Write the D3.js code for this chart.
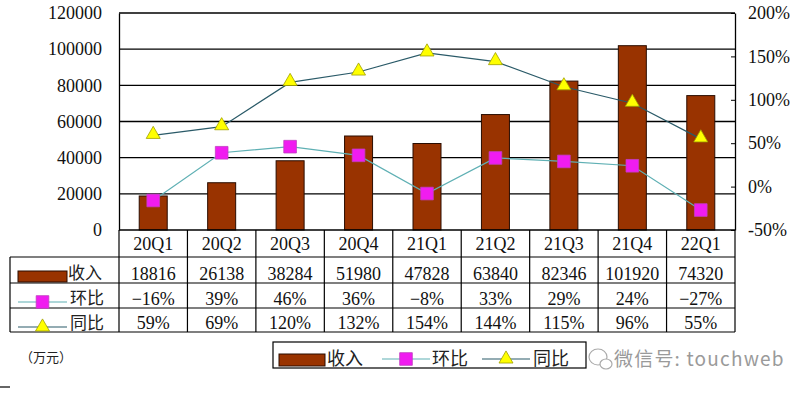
<!DOCTYPE html>
<html>
<head>
<meta charset="utf-8">
<script src="https://cdn.jsdelivr.net/npm/d3@7"></script>
<style>
  body { margin: 0; background: #fff; }
  svg { display: block; }
  text { font-family: "Liberation Serif", "Noto Sans CJK SC", serif; }
  text.cjk { font-family: "Noto Sans CJK SC", sans-serif; }
  text.wm { font-family: "Noto Sans CJK SC", "DejaVu Sans", sans-serif; }
</style>
</head>
<body>
<svg id="chart" width="803" height="395"></svg>
<script>
// data
var quarters = ["20Q1", "20Q2", "20Q3", "20Q4", "21Q1", "21Q2", "21Q3", "21Q4", "22Q1"];
var revenue = [18816, 26138, 38284, 51980, 47828, 63840, 82346, 101920, 74320];
var qoq = [-16, 39, 46, 36, -8, 33, 29, 24, -27];     // 环比 %
var yoy = [59, 69, 120, 132, 154, 144, 115, 96, 55];  // 同比 %
var leftTicks = [0, 20000, 40000, 60000, 80000, 100000, 120000];
var rightTicks = [-50, 0, 50, 100, 150, 200];

var BAR = "#993300", QOQ_LINE = "#5fb0b4", YOY_LINE = "#2a5a68";
var MAGENTA = "#f01cf0", YELLOW = "#ffff00";

var svg = d3.select("#chart");
var L = 119, R = 735, T = 13, B = 230;
var rows = [230, 257, 283, 308, 332]; // table row lines

var x = d3.scaleBand().domain(quarters).range([L, R]);
var yL = d3.scaleLinear().domain([0, 120000]).range([B, T]);
var yR = d3.scaleLinear().domain([-50, 200]).range([B, T]);

// gridlines
svg.append("g").selectAll("line").data(leftTicks.slice(1)).join("line")
  .attr("x1", L).attr("x2", R)
  .attr("y1", d => yL(d)).attr("y2", d => yL(d))
  .attr("stroke", "#000").attr("stroke-width", 1.3);

// bars
var bw = 28;
svg.append("g").selectAll("rect").data(revenue).join("rect")
  .attr("x", (d, i) => x(quarters[i]) + x.bandwidth() / 2 - bw / 2)
  .attr("y", d => yL(d))
  .attr("width", bw)
  .attr("height", d => B - yL(d))
  .attr("fill", BAR).attr("stroke", "#2a0d00").attr("stroke-width", 1);

// left axis
var axL = svg.append("g").attr("transform", "translate(" + L + ",0)")
  .call(d3.axisLeft(yL).tickValues(leftTicks).tickSize(0).tickPadding(17).tickFormat(d3.format("d")));
axL.select(".domain").attr("stroke", "#000").attr("stroke-width", 1.3);
axL.selectAll("text").attr("font-size", 18).attr("fill", "#111");

// right axis
var axR = svg.append("g").attr("transform", "translate(" + R + ",0)")
  .call(d3.axisRight(yR).tickValues(rightTicks).tickSizeInner(-4).tickSizeOuter(0).tickPadding(13).tickFormat(d => d + "%"));
axR.select(".domain").attr("stroke", "#000").attr("stroke-width", 1.3);
axR.selectAll("line").attr("stroke", "#000");
axR.selectAll("text").attr("font-size", 18).attr("fill", "#111");

// lines
var cx = d => x(d) + x.bandwidth() / 2;
var pctLine = d3.line().x((d, i) => cx(quarters[i])).y(d => yR(d));
svg.append("path").datum(qoq).attr("d", pctLine)
  .attr("fill", "none").attr("stroke", QOQ_LINE).attr("stroke-width", 1.2);
svg.append("path").datum(yoy).attr("d", pctLine)
  .attr("fill", "none").attr("stroke", YOY_LINE).attr("stroke-width", 1.2);

var sq = d3.symbol().type(d3.symbolSquare).size(160);
var tri = d3.symbol().type(d3.symbolTriangle).size(85);

svg.append("g").selectAll("path").data(qoq).join("path")
  .attr("d", sq)
  .attr("transform", (d, i) => "translate(" + cx(quarters[i]) + "," + yR(d) + ")")
  .attr("fill", MAGENTA).attr("stroke", "#c040c0").attr("stroke-width", 0.8);
svg.append("g").selectAll("path").data(yoy).join("path")
  .attr("d", tri)
  .attr("transform", (d, i) => "translate(" + cx(quarters[i]) + "," + (yR(d) - 1) + ")")
  .attr("fill", YELLOW).attr("stroke", "#a0a000").attr("stroke-width", 0.8);

// data table
var tbl = svg.append("g");
tbl.append("line").attr("x1", L).attr("x2", R).attr("y1", rows[0]).attr("y2", rows[0])
  .attr("stroke", "#000").attr("stroke-width", 1.3);
rows.slice(1).forEach(function (yy) {
  tbl.append("line").attr("x1", 10).attr("x2", R).attr("y1", yy).attr("y2", yy)
    .attr("stroke", "#000").attr("stroke-width", 1.2);
});
var bounds = quarters.map(q => x(q)).concat([R]);
tbl.selectAll("line.v").data(bounds).join("line").attr("class", "v")
  .attr("x1", d => d).attr("x2", d => d).attr("y1", rows[0]).attr("y2", rows[4])
  .attr("stroke", "#000").attr("stroke-width", 1.2);
tbl.append("line").attr("x1", 10).attr("x2", 10).attr("y1", rows[1]).attr("y2", rows[4])
  .attr("stroke", "#000").attr("stroke-width", 1.2);

// category labels
tbl.selectAll("text.cat").data(quarters).join("text").attr("class", "cat")
  .attr("x", d => cx(d)).attr("y", 250)
  .attr("text-anchor", "middle").attr("font-size", 18).attr("fill", "#111").text(d => d);

var rowText = [
  { vals: revenue.map(String), y: 280 },
  { vals: qoq.map(d => (d < 0 ? "\u2212" + (-d) : d) + "%"), y: 305 },
  { vals: yoy.map(d => d + "%"), y: 329 }
];
rowText.forEach(function (r) {
  tbl.append("g").selectAll("text").data(r.vals).join("text")
    .attr("x", (d, i) => cx(quarters[i])).attr("y", r.y)
    .attr("text-anchor", "middle").attr("font-size", 18).attr("fill", "#111").text(d => d);
});

// legend keys
function keyRect(g, x0, y0, w, h) {
  g.append("rect").attr("x", x0).attr("y", y0).attr("width", w).attr("height", h)
    .attr("fill", BAR).attr("stroke", "#2a0d00").attr("stroke-width", 1);
}
function keyLine(g, x0, x1, yy, color, marker, mfill, mstroke) {
  g.append("line").attr("x1", x0).attr("x2", x1).attr("y1", yy).attr("y2", yy)
    .attr("stroke", color).attr("stroke-width", 1.2);
  g.append("path").attr("d", marker)
    .attr("transform", "translate(" + (x0 + x1) / 2 + "," + yy + ")")
    .attr("fill", mfill).attr("stroke", mstroke).attr("stroke-width", 0.8);
}
function keyText(g, x0, yy, t, size) {
  g.append("text").attr("class", "cjk").attr("x", x0).attr("y", yy)
    .attr("font-size", size).attr("fill", "#222").text(t);
}
var clip = svg.append("clipPath").attr("id", "tclip");
clip.append("rect").attr("x", 10).attr("y", rows[1]).attr("width", L - 10).attr("height", rows[4] - rows[1]);
var keys = tbl.append("g").attr("clip-path", "url(#tclip)");
keyRect(keys, 18, 271, 49, 11);
keyText(keys, 68, 279, "收入", 17);
keyLine(keys, 18, 67, 302, QOQ_LINE, sq, MAGENTA, "#c040c0");
keyText(keys, 70, 304, "环比", 17);
keyLine(keys, 18, 67, 327, YOY_LINE, tri, YELLOW, "#a0a000");
keyText(keys, 70, 329, "同比", 17);

// unit
svg.append("text").attr("class", "cjk").attr("x", 20).attr("y", 362)
  .attr("font-size", 13).attr("fill", "#222").text("（万元）");

// bottom legend
var lg = svg.append("g");
lg.append("rect").attr("x", 273).attr("y", 342).attr("width", 313).attr("height", 26)
  .attr("fill", "#fff").attr("stroke", "#000").attr("stroke-width", 1.2);
keyRect(lg, 279, 354, 46, 12);
keyText(lg, 327, 365, "收入", 18);
keyLine(lg, 382, 430, 359, QOQ_LINE, sq, MAGENTA, "#c040c0");
keyText(lg, 432, 365, "环比", 18);
keyLine(lg, 482, 530, 359, YOY_LINE, tri, YELLOW, "#a0a000");
keyText(lg, 533, 365, "同比", 18);

// watermark
var wm = svg.append("g").attr("stroke", "#aaa").attr("fill", "#fff").attr("stroke-width", 1.2);
wm.append("ellipse").attr("cx", 598).attr("cy", 357).attr("rx", 9).attr("ry", 8);
wm.append("ellipse").attr("cx", 606).attr("cy", 364).attr("rx", 6).attr("ry", 5);
svg.append("text").attr("class", "wm").attr("x", 614).attr("y", 366)
  .attr("font-size", 19).attr("letter-spacing", 1.2)
  .attr("fill", "#9a9a9a").text("微信号: touchweb");

// small mark lower left
svg.append("line").attr("x1", 0).attr("x2", 10).attr("y1", 387).attr("y2", 387)
  .attr("stroke", "#000").attr("stroke-width", 1.2);
</script>
</body>
</html>
